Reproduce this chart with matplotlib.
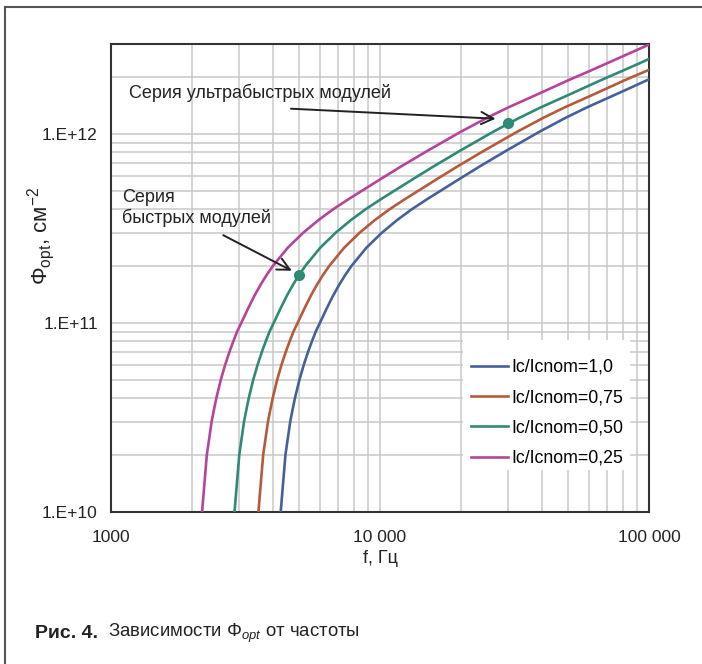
import matplotlib
matplotlib.use("Agg")
import matplotlib.pyplot as plt
from matplotlib.lines import Line2D
from matplotlib.patches import Rectangle
from matplotlib.ticker import FixedLocator, FixedFormatter, LogLocator, NullFormatter

plt.rcParams['font.family'] = ['Liberation Sans', 'DejaVu Sans']
plt.rcParams['mathtext.fontset'] = 'custom'
plt.rcParams['mathtext.rm'] = 'Liberation Sans'
plt.rcParams['mathtext.it'] = 'Liberation Sans:italic'

# ---- data ----
labels = ["Ic/Icnom=1,0", "Ic/Icnom=0,75", "Ic/Icnom=0,50", "Ic/Icnom=0,25"]
colors = ["#46609a", "#b65a3b", "#2f8a75", "#b5449a"]

f_025 = [2181, 2233, 2271, 2323, 2366, 2417, 2464, 2560, 2657, 2754, 2850, 2944, 3050, 3240, 3420,
         3605, 3795, 3995, 4540, 5180, 5900, 6700, 7600, 8550, 10000, 12000, 15000, 20000, 25000,
         30000, 40000, 50000, 60000, 70000, 80000, 90000, 100000]
phi_025 = [1.0e10, 1.5e10, 2.0e10, 2.5e10, 3.0e10, 3.5e10, 4.0e10, 5.0e10, 6.0e10, 7.0e10, 8.0e10,
           9.0e10, 1.0e11, 1.2e11, 1.4e11, 1.6e11, 1.8e11, 2.0e11, 2.5e11, 3.0e11, 3.5e11, 4.0e11,
           4.5e11, 5.0e11, 5.75e11, 6.75e11, 8.15e11, 1.03e12, 1.22e12, 1.385e12, 1.665e12,
           1.925e12, 2.155e12, 2.375e12, 2.585e12, 2.785e12, 2.98e12]

f_050 = [2879, 2948, 2998, 3066, 3123, 3190, 3252, 3379, 3507, 3635, 3762, 3886, 4026, 4277, 4514,
         4759, 5009, 5273, 5993, 6838, 7788, 8844, 10032, 11286, 13200, 15840, 19800, 26400, 33000,
         39600, 52800, 66000, 79200, 92400, 100000]
phi_050 = [1.0e10, 1.5e10, 2.0e10, 2.5e10, 3.0e10, 3.5e10, 4.0e10, 5.0e10, 6.0e10, 7.0e10, 8.0e10,
           9.0e10, 1.0e11, 1.2e11, 1.4e11, 1.6e11, 1.8e11, 2.0e11, 2.5e11, 3.0e11, 3.5e11, 4.0e11,
           4.5e11, 5.0e11, 5.75e11, 6.75e11, 8.15e11, 1.03e12, 1.22e12, 1.385e12, 1.665e12,
           1.925e12, 2.155e12, 2.375e12, 2.5e12]

f_075 = [3533, 3617, 3679, 3763, 3833, 3916, 3992, 4147, 4304, 4461, 4617, 4769, 4941, 5249, 5540,
         5840, 6148, 6472, 7355, 8392, 9558, 10854, 12312, 13851, 16200, 19440, 24300, 32400, 40500,
         48600, 64800, 81000, 100000]
phi_075 = [1.0e10, 1.5e10, 2.0e10, 2.5e10, 3.0e10, 3.5e10, 4.0e10, 5.0e10, 6.0e10, 7.0e10, 8.0e10,
           9.0e10, 1.0e11, 1.2e11, 1.4e11, 1.6e11, 1.8e11, 2.0e11, 2.5e11, 3.0e11, 3.5e11, 4.0e11,
           4.5e11, 5.0e11, 5.75e11, 6.75e11, 8.15e11, 1.03e12, 1.22e12, 1.385e12, 1.665e12,
           1.925e12, 2.19e12]

f_100 = [4275, 4377, 4451, 4553, 4637, 4737, 4829, 5018, 5208, 5398, 5586, 5770, 5978, 6350, 6703,
         7066, 7438, 7830, 8898, 10153, 11564, 13132, 14896, 16758, 19600, 23520, 29400, 39200,
         49000, 58800, 78400, 100000]
phi_100 = [1.0e10, 1.5e10, 2.0e10, 2.5e10, 3.0e10, 3.5e10, 4.0e10, 5.0e10, 6.0e10, 7.0e10, 8.0e10,
           9.0e10, 1.0e11, 1.2e11, 1.4e11, 1.6e11, 1.8e11, 2.0e11, 2.5e11, 3.0e11, 3.5e11, 4.0e11,
           4.5e11, 5.0e11, 5.75e11, 6.75e11, 8.15e11, 1.03e12, 1.22e12, 1.385e12, 1.665e12,
           1.95e12]

dots_f = [5000, 30000]
dots_phi = [1.8e11, 1.14e12]

x_ticks = [1000, 10000, 100000]
x_ticklabels = ["1000", "10 000", "100 000"]
y_ticks = [1e10, 1e11, 1e12]
y_ticklabels = ["1.E+10", "1.E+11", "1.E+12"]

# ---- figure ----
fig = plt.figure(figsize=(7.02, 6.64), dpi=100)
ax = fig.add_axes([111 / 702, 1 - 511.7 / 664, 538 / 702, 467.7 / 664])
ax.set_xscale('log')
ax.set_yscale('log')
ax.set_xlim(1000, 100000)
ax.set_ylim(1e10, 3e12)

series = [(f_100, phi_100), (f_075, phi_075), (f_050, phi_050), (f_025, phi_025)]
handles = []
for (fx, fy), lab, c in zip(series, labels, colors):
    h, = ax.plot(fx, fy, color=c, lw=1.9, label=lab, zorder=3)
    handles.append(h)

ax.plot(dots_f, dots_phi, 'o', color=colors[2], ms=7, zorder=4)

ax.xaxis.set_major_locator(FixedLocator(x_ticks))
ax.xaxis.set_major_formatter(FixedFormatter(x_ticklabels))
ax.xaxis.set_minor_locator(LogLocator(base=10, subs=range(2, 10), numticks=20))
ax.xaxis.set_minor_formatter(NullFormatter())
ax.yaxis.set_major_locator(FixedLocator(y_ticks))
ax.yaxis.set_major_formatter(FixedFormatter(y_ticklabels))
ax.yaxis.set_minor_locator(LogLocator(base=10, subs=range(2, 10), numticks=20))
ax.yaxis.set_minor_formatter(NullFormatter())

ax.grid(True, which='both', color='#c9c9c9', lw=1.1, zorder=0)
ax.set_axisbelow(True)
ax.tick_params(which='both', length=0)
ax.tick_params(axis='y', pad=9.5, labelsize=12.5, colors='#222')
ax.tick_params(axis='x', pad=13.5, labelsize=12.5, colors='#222')
for s in ax.spines.values():
    s.set_color('#333333')
    s.set_linewidth(1.5)

ax.set_xlabel("f, Гц", fontsize=13, color='#222', labelpad=3)
ax.set_ylabel("Φ$_{\\rm opt}$, см$^{-2}$", fontsize=16, color='#222')
ax.yaxis.set_label_coords(-0.1, 0.59)

# annotations
ax.text(1167, 1.66e12, "Серия ультрабыстрых модулей", fontsize=13, va='center', ha='left', color='#222')
ax.annotate("", xy=(27540, 1.204e12), xytext=(4556, 1.365e12),
            arrowprops=dict(arrowstyle='->', color='#222', lw=1.4, mutation_scale=22))
ax.text(1099, 4.07e11, "Серия\nбыстрых модулей", fontsize=13, va='center', ha='left',
        color='#222', linespacing=1.15)
ax.annotate("", xy=(4800, 1.86e11), xytext=(2559, 2.96e11),
            arrowprops=dict(arrowstyle='->', color='#222', lw=1.4, mutation_scale=22))

# legend with white background box
ax.add_patch(Rectangle((0.6543, 0.0892), 0.3104, 0.2779, transform=ax.transAxes,
                       facecolor='white', edgecolor='none', zorder=1))
ax.legend(handles=handles, loc='upper left', bbox_to_anchor=(0.669, 0.3265), frameon=False,
          fontsize=12.8, handlelength=2.08, handletextpad=0.2, labelspacing=0.75,
          borderpad=0, borderaxespad=0)

# outer frame (top and left edges)
fig.add_artist(Line2D([4.5 / 702, 1], [1 - 7 / 664, 1 - 7 / 664], color='#555555', lw=1.5))
fig.add_artist(Line2D([4.5 / 702, 4.5 / 702], [0, 1 - 7 / 664], color='#555555', lw=1.5))

# caption
fig.text(35 / 702, 1 - 633 / 664, "Рис. 4.", fontsize=14, fontweight='bold', va='center', ha='left',
         color='#222')
fig.text(108 / 702, 1 - 633 / 664, "Зависимости Φ$_{opt}$ от частоты", fontsize=13.4, va='center',
         ha='left', color='#222')

fig.savefig("out.png", dpi=100)
